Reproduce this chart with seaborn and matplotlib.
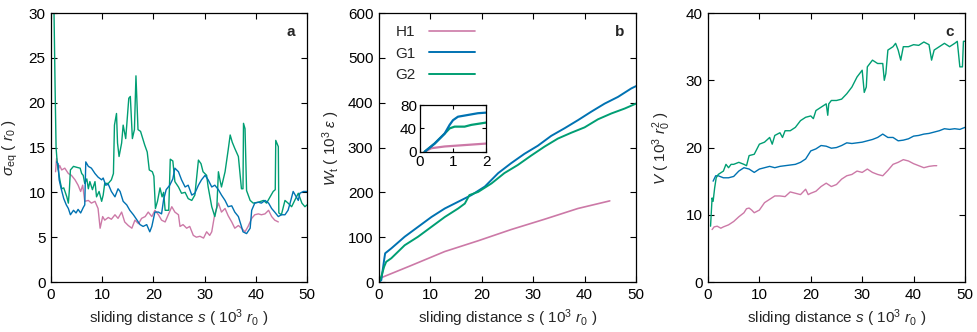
import matplotlib
matplotlib.use("Agg")
import matplotlib.pyplot as plt
import seaborn as sns

# ---------------- data ----------------
# panel a : sigma_eq (10^3 r0 on x, r0 on y)
a_g2_s = [0.6, 0.8, 1.0, 1.2, 1.5, 1.8, 2.1, 2.5, 3.1, 3.4, 3.6, 3.8, 4.4, 5.0, 5.7, 6.0, 6.3, 6.6, 7.0, 7.3,
          7.6, 8.1, 8.6, 8.9, 9.4, 9.9, 10.2, 10.5, 11.2, 11.8, 12.2, 12.4, 12.8, 13.0, 13.3, 13.8, 14.1, 14.6,
          15.2, 15.5, 15.9, 16.3, 16.6, 17.0, 17.5, 18.3, 18.8, 19.2, 19.8, 20.1, 20.4, 20.8, 21.3, 21.7, 22.0,
          22.3, 23.0, 23.3, 23.8, 24.2, 24.9, 25.5, 26.2, 26.8, 27.5, 28.1, 28.8, 29.3, 29.7, 30.4, 30.7, 31.4,
          32.0, 32.4, 32.7, 33.0, 33.3, 34.0, 34.6, 35.0, 35.4, 35.9, 36.6, 37.2, 37.5, 37.6, 37.9, 38.2, 38.9,
          39.5, 40.5, 41.5, 42.1, 42.8, 43.4, 43.8, 43.9, 44.4, 44.5, 45.0, 45.7, 46.3, 47.0, 47.6, 48.3, 49.0,
          49.6, 50.0]
a_g2_v = [30.0, 22.0, 15.0, 13.5, 12.2, 11.2, 10.4, 10.5, 9.5, 8.8, 10.3, 12.5, 12.9, 12.8, 12.7, 12.1, 11.9, 11.0, 11.5, 10.4,
          11.2, 10.3, 11.2, 9.5, 10.1, 9.0, 9.7, 11.0, 11.0, 11.4, 12.1, 17.5, 18.8, 15.5, 14.0, 15.5, 17.5, 16.0,
          20.5, 20.7, 16.0, 17.0, 23.0, 17.0, 16.8, 15.3, 14.5, 12.5, 12.3, 11.8, 8.2, 9.0, 10.5, 9.5, 10.0,
          8.0, 8.0, 13.7, 13.5, 11.2, 10.6, 9.9, 10.0, 9.3, 9.1, 9.7, 13.6, 13.2, 12.3, 11.9, 10.6, 8.4,
          7.3, 8.4, 12.3, 11.4, 10.6, 12.3, 14.7, 16.4, 15.6, 14.9, 14.0, 10.4, 10.4, 17.7, 17.1, 10.2, 9.1,
          8.8, 8.9, 9.1, 8.8, 9.5, 10.1, 10.3, 15.8, 15.1, 7.7, 7.5, 9.1, 8.8, 8.4, 9.1, 9.9, 8.8,
          8.4, 8.6]

a_g1_s = [1.1, 1.4, 1.6, 2.0, 2.5, 3.0, 3.4, 3.8, 4.4, 4.9, 5.3, 5.8, 6.3, 6.6, 6.8, 7.3, 7.9, 8.6, 9.2, 9.9,
          10.2, 10.7, 11.2, 11.8, 12.5, 13.1, 13.5, 14.1, 14.8, 15.4, 16.1, 16.7, 17.4, 18.0, 18.7, 19.3, 19.7,
          20.3, 21.0, 21.6, 22.0, 22.5, 23.2, 23.8, 24.2, 24.9, 25.5, 26.2, 26.8, 27.5, 28.1, 28.8, 29.4, 30.1,
          30.7, 31.4, 32.0, 32.7, 33.3, 34.0, 34.6, 35.3, 35.9, 36.6, 37.2, 37.5, 38.2, 38.9, 39.2, 39.8, 40.5,
          41.1, 41.8, 42.5, 43.1, 43.7, 44.4, 45.0, 45.7, 46.3, 46.7, 47.3, 47.7, 48.3, 48.6, 49.3, 50.0]
a_g1_v = [13.4, 13.2, 11.4, 10.4, 9.3, 8.6, 8.2, 7.5, 8.0, 7.7, 8.1, 7.7, 8.3, 8.6, 13.4, 12.9, 12.7, 12.1, 11.7, 11.4,
          11.6, 10.8, 10.9, 10.1, 9.5, 10.4, 10.1, 9.0, 8.6, 8.0, 7.5, 7.0, 6.4, 6.2, 6.4, 5.6, 6.2,
          7.8, 7.8, 7.6, 9.2, 10.3, 10.8, 11.5, 12.7, 12.3, 11.4, 10.6, 10.8, 9.7, 9.9, 10.8, 11.4, 11.9,
          11.4, 10.6, 10.8, 10.3, 9.7, 9.1, 8.4, 8.5, 7.8, 7.3, 6.2, 5.6, 5.4, 6.0, 8.0, 8.8, 8.9,
          8.8, 9.1, 8.8, 8.2, 7.8, 7.3, 7.5, 7.5, 8.0, 8.8, 10.1, 9.7, 9.1, 9.9, 10.1, 10.1]

a_h1_s = [0.9, 1.1, 1.4, 1.7, 2.1, 2.7, 3.4, 4.0, 4.7, 5.3, 5.8, 6.2, 6.6, 7.3, 7.9, 8.6, 9.2, 9.6, 10.1, 10.5,
          11.2, 11.8, 12.5, 13.1, 13.8, 14.4, 15.1, 15.8, 16.4, 17.1, 17.7, 18.4, 19.0, 19.7, 20.3, 21.0, 21.6,
          22.3, 22.9, 23.6, 24.2, 24.9, 25.2, 25.8, 26.5, 27.1, 27.8, 28.4, 29.1, 29.8, 30.4, 31.0, 31.4, 32.0,
          32.7, 33.3, 34.0, 34.6, 35.3, 35.9, 36.6, 37.2, 37.9, 38.5, 39.2, 39.8, 40.5, 41.1, 41.8, 42.5, 43.1,
          43.7, 44.4]
a_h1_v = [12.3, 13.8, 12.5, 13.0, 12.5, 12.7, 12.1, 11.9, 11.4, 10.8, 10.1, 10.8, 9.0, 9.1, 8.8, 9.0, 8.2, 6.0, 7.3, 6.9,
          7.2, 7.0, 7.5, 7.1, 7.8, 6.7, 6.3, 6.0, 6.9, 6.5, 7.1, 7.3, 7.8, 7.3, 8.0, 7.5, 6.9,
          6.7, 7.5, 8.4, 7.8, 7.5, 6.2, 6.4, 6.0, 6.2, 5.2, 5.0, 5.1, 4.9, 5.6, 5.2, 5.6, 7.6,
          8.8, 7.8, 8.2, 7.4, 6.7, 6.0, 6.3, 6.0, 5.6, 6.2, 7.1, 7.5, 7.6, 7.5, 7.6, 8.0, 7.3,
          6.9, 6.7]

# panel b : W_t (10^3 epsilon)
b_g1_s = [0.0, 0.45, 1.0, 1.2, 2.4, 5.0, 7.6, 10.2, 12.8, 15.4, 18.0, 20.6, 23.2, 25.7, 28.3, 30.9, 33.5, 36.1,
          38.7, 41.3, 43.9, 46.5, 49.1, 50.0]
b_g1_v = [0, 4, 49, 64, 75, 101, 123, 145, 164, 179, 194, 213, 243, 265, 286, 304, 326, 343,
          361, 380, 398, 413, 432, 437]
b_g2_s = [0.0, 0.45, 1.0, 1.4, 2.4, 5.0, 7.6, 10.2, 12.8, 15.4, 16.7, 17.6, 19.3, 21.9, 24.4, 27.0, 29.6, 32.2,
          34.8, 37.4, 40.0, 42.6, 45.2, 47.8, 50.0]
b_g2_v = [0, 12, 34, 45, 53, 82, 101, 123, 145, 164, 175, 194, 201, 220, 243, 261, 282, 302,
          320, 333, 345, 363, 376, 387, 398]
b_h1_s = [0.1, 6.3, 12.8, 19.3, 25.7, 32.2, 38.7, 44.9]
b_h1_v = [8, 37, 68, 92, 117, 140, 164, 181]

# inset of panel b
i_g1_s = [0.15, 0.45, 0.75, 0.9, 1.0, 1.15, 1.45, 1.75, 2.0]
i_g1_v = [0, 14, 31, 46, 54, 60, 63, 66, 67]
i_g2_s = [0.15, 0.45, 0.75, 0.9, 1.05, 1.35, 1.55, 2.0]
i_g2_v = [0, 14, 31, 40, 43, 43, 46, 50]
i_h1_s = [0.15, 0.35, 0.75, 1.25, 2.0]
i_h1_v = [0, 6, 9, 11, 14]

# panel c : V (10^3 r0^2)
c_g2_s = [0.5, 0.8, 1.0, 1.3, 1.6, 2.0, 3.0, 3.5, 4.0, 4.5, 5.0, 6.0, 7.0, 7.5, 8.0, 9.0, 10.0, 11.0, 12.0, 12.5,
          13.0, 14.0, 14.5, 15.0, 16.0, 17.0, 18.0, 19.0, 20.0, 20.5, 21.0, 22.0, 23.0, 23.3, 23.5, 24.0, 25.0,
          26.0, 27.0, 28.0, 29.0, 30.0, 30.4, 30.8, 31.0, 32.0, 33.0, 34.0, 34.3, 34.6, 35.0, 36.0, 36.5, 37.0,
          37.5, 38.0, 39.0, 40.0, 41.0, 42.0, 43.0, 43.5, 44.0, 45.0, 46.0, 47.0, 48.0, 48.5, 49.0, 49.5, 49.7, 50.0]
c_g2_v = [8.3, 12.5, 12.0, 14.0, 15.5, 16.0, 16.5, 17.5, 17.0, 17.5, 17.5, 17.8, 17.5, 17.3, 18.8, 19.0, 20.5, 20.8, 21.5, 20.5,
          21.8, 22.2, 21.5, 22.5, 22.5, 23.0, 24.0, 24.5, 24.7, 24.3, 25.5, 26.0, 26.5, 24.8, 26.5, 27.0, 27.0,
          27.2, 28.0, 29.0, 30.5, 31.5, 28.2, 29.0, 32.0, 33.0, 32.5, 32.5, 30.0, 31.0, 34.5, 35.0, 35.5, 34.5,
          33.0, 35.0, 35.0, 35.3, 35.2, 35.7, 35.3, 33.0, 34.5, 35.0, 35.5, 35.0, 35.5, 35.8, 32.0, 32.0, 35.8, 35.8]
c_g1_s = [1.0, 1.5, 2.0, 3.0, 4.0, 5.0, 6.0, 7.0, 8.0, 9.0, 10.0, 11.0, 12.0, 13.0, 14.0, 15.0, 16.0, 17.0, 18.0,
          19.0, 20.0, 21.0, 22.0, 23.0, 24.0, 25.0, 26.0, 27.0, 28.0, 29.0, 30.0, 31.0, 32.0, 33.0, 34.0, 35.0,
          36.0, 37.0, 38.0, 39.0, 40.0, 41.0, 42.0, 43.0, 44.0, 45.0, 46.0, 47.0, 48.0, 49.0, 50.0]
c_g1_v = [15.0, 15.8, 15.8, 15.5, 15.5, 15.7, 16.5, 17.0, 16.8, 16.3, 16.8, 17.0, 17.2, 17.0, 17.2, 17.3, 17.4, 17.5, 17.8,
          18.3, 19.5, 19.8, 20.3, 20.2, 19.9, 20.0, 20.3, 20.7, 20.6, 20.7, 20.8, 21.0, 21.2, 21.5, 22.0, 21.5,
          21.5, 21.0, 21.1, 21.3, 21.7, 21.8, 22.0, 22.1, 22.3, 22.5, 22.8, 22.7, 22.8, 22.7, 23.0]
c_h1_s = [0.8, 1.2, 1.8, 2.5, 3.0, 4.0, 5.0, 6.0, 7.0, 7.5, 8.0, 8.5, 9.0, 10.0, 11.0, 12.0, 13.0, 14.0, 15.0, 16.0,
          17.0, 18.0, 19.0, 19.5, 20.0, 21.0, 22.0, 23.0, 24.0, 25.0, 26.0, 27.0, 28.0, 29.0, 30.0, 31.0, 32.0,
          33.0, 34.0, 35.0, 36.0, 37.0, 38.0, 39.0, 40.0, 41.0, 42.0, 43.0, 44.0, 44.5]
c_h1_v = [7.8, 8.2, 8.3, 8.0, 8.2, 8.5, 9.0, 9.7, 10.3, 10.9, 11.0, 10.7, 10.3, 10.7, 11.8, 12.3, 12.8, 12.8, 12.7, 13.4,
          13.2, 13.0, 13.8, 13.0, 13.2, 13.5, 14.2, 14.7, 14.2, 14.5, 15.3, 15.8, 16.0, 16.5, 16.3, 16.8, 16.3,
          16.0, 15.8, 16.6, 17.5, 17.8, 18.2, 18.0, 17.6, 17.3, 17.0, 17.2, 17.3, 17.3]

labels = ["H1", "G1", "G2"]
colors = {"H1": "#cc79a7", "G1": "#0072b2", "G2": "#009e73"}

# ---------------- style ----------------
sns.set_theme(style="ticks")
plt.rcParams["font.family"] = ["Liberation Sans", "DejaVu Sans"]
plt.rcParams["mathtext.fontset"] = "custom"
plt.rcParams["mathtext.rm"] = "Liberation Sans"
plt.rcParams["mathtext.it"] = "Liberation Sans:italic"
plt.rcParams["mathtext.bf"] = "Liberation Sans:bold"
FS = 11.0

fig = plt.figure(figsize=(9.78, 3.32), dpi=100)
H = 0.810
B = 0.1506
W = 0.2628
axa = fig.add_axes([0.0521, B, 0.2618, H])
axb = fig.add_axes([0.3875, B, W, H])
axc = fig.add_axes([0.7239, B, W, H])
axi = fig.add_axes([0.4291, 0.5430, 0.0681, 0.1406])


def style(ax, fs=FS):
    ax.tick_params(direction="in", top=True, right=True, length=4, width=0.8,
                   labelsize=fs, colors="black", pad=4)
    for sp in ax.spines.values():
        sp.set_visible(True)
        sp.set_linewidth(0.9)
        sp.set_color("black")


lw = 1.0
# panel a
sns.lineplot(x=a_h1_s, y=a_h1_v, color=colors["H1"], lw=lw, ax=axa)
sns.lineplot(x=a_g2_s, y=a_g2_v, color=colors["G2"], lw=lw, ax=axa)
sns.lineplot(x=a_g1_s, y=a_g1_v, color=colors["G1"], lw=lw, ax=axa)
axa.set_xlim(0, 50)
axa.set_ylim(0, 30)
axa.set_xticks([0, 10, 20, 30, 40, 50])
axa.set_yticks([0, 5, 10, 15, 20, 25, 30])
axa.set_ylabel(r"$\sigma_{\mathrm{eq}}$ ( $r_0$ )", fontsize=FS)
axa.set_xlabel(r"sliding distance $s$ ( $10^3$ $r_0$ )", fontsize=FS)
axa.yaxis.set_label_coords(-0.119, 0.5)
axa.text(0.955, 0.93, "a", transform=axa.transAxes, ha="right", va="center",
         fontsize=FS, fontweight="bold")
style(axa)

# panel b
sns.lineplot(x=b_h1_s, y=b_h1_v, color=colors["H1"], lw=1.2, ax=axb, label="H1")
sns.lineplot(x=b_g1_s, y=b_g1_v, color=colors["G1"], lw=1.4, ax=axb, label="G1")
sns.lineplot(x=b_g2_s, y=b_g2_v, color=colors["G2"], lw=1.4, ax=axb, label="G2")
axb.set_xlim(0, 50)
axb.set_ylim(0, 600)
axb.set_xticks([0, 10, 20, 30, 40, 50])
axb.set_yticks([0, 100, 200, 300, 400, 500, 600])
axb.set_ylabel(r"$W_{\mathrm{t}}$ ( $10^3$ $\varepsilon$ )", fontsize=FS)
axb.set_xlabel(r"sliding distance $s$ ( $10^3$ $r_0$ )", fontsize=FS)
axb.yaxis.set_label_coords(-0.142, 0.5)
axb.text(0.955, 0.93, "b", transform=axb.transAxes, ha="right", va="center",
         fontsize=FS, fontweight="bold")
axb.legend(loc="upper left", frameon=False, markerfirst=False, fontsize=FS,
           handlelength=3.0, handletextpad=0.9, labelspacing=0.5,
           bbox_to_anchor=(0.02, 0.995), borderaxespad=0.3)
style(axb)

# inset
sns.lineplot(x=i_h1_s, y=i_h1_v, color=colors["H1"], lw=1.6, ax=axi)
sns.lineplot(x=i_g2_s, y=i_g2_v, color=colors["G2"], lw=1.6, ax=axi)
sns.lineplot(x=i_g1_s, y=i_g1_v, color=colors["G1"], lw=1.6, ax=axi)
axi.set_xlim(0, 2)
axi.set_ylim(0, 80)
axi.set_xticks([0, 1, 2])
axi.set_yticks([0, 40, 80])
axi.set_xlabel("")
axi.set_ylabel("")
style(axi)
axi.tick_params(length=3, pad=2)

# panel c
sns.lineplot(x=c_h1_s, y=c_h1_v, color=colors["H1"], lw=lw, ax=axc)
sns.lineplot(x=c_g1_s, y=c_g1_v, color=colors["G1"], lw=lw, ax=axc)
sns.lineplot(x=c_g2_s, y=c_g2_v, color=colors["G2"], lw=lw, ax=axc)
axc.set_xlim(0, 50)
axc.set_ylim(0, 40)
axc.set_xticks([0, 10, 20, 30, 40, 50])
axc.set_yticks([0, 10, 20, 30, 40])
axc.set_ylabel(r"$V$ ( $10^3$ $r_0^2$ )", fontsize=FS)
axc.set_xlabel(r"sliding distance $s$ ( $10^3$ $r_0$ )", fontsize=FS)
axc.yaxis.set_label_coords(-0.136, 0.5)
axc.text(0.955, 0.93, "c", transform=axc.transAxes, ha="right", va="center",
         fontsize=FS, fontweight="bold")
style(axc)

fig.savefig("out.png", dpi=100)
